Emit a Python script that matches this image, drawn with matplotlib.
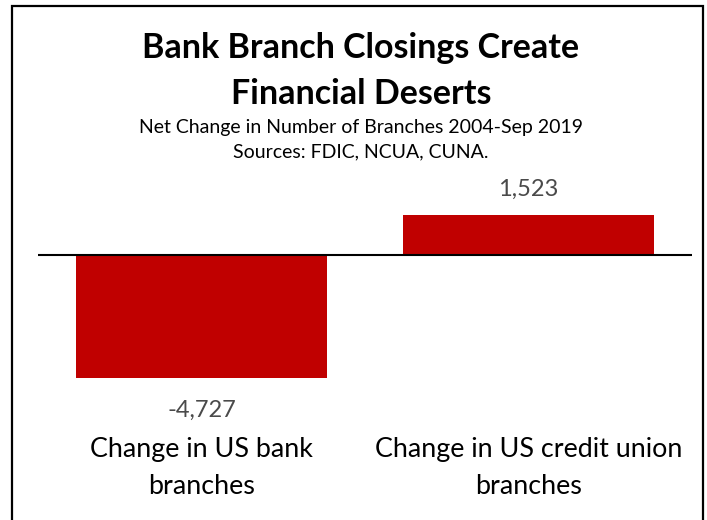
import matplotlib.pyplot as plt
from matplotlib.patches import Rectangle

categories = ["Change in US bank\nbranches", "Change in US credit union\nbranches"]
net_change = [-4727, 1523]

title = "Bank Branch Closings Create\nFinancial Deserts"
subtitle = "Net Change in Number of Branches 2004-Sep 2019"
source = "Sources: FDIC, NCUA, CUNA."

W, H = 707, 520
plt.rcParams['font.family'] = ['Lato', 'DejaVu Sans']

fig = plt.figure(figsize=(W / 100, H / 100), dpi=100)

def px(x, y):
    # pixel position -> figure fraction
    return x / W, 1 - y / H

# frame around the whole chart
fig.patches.append(Rectangle(px(12, 530), (703 - 12) / W, (530 - 6) / H,
                             transform=fig.transFigure, fill=False,
                             edgecolor="black", linewidth=1.6))

fig.text(*px(361, 71), title, ha="center", va="center", fontsize=24.5,
         fontweight="bold", linespacing=1.5)
fig.text(*px(361, 128), subtitle, ha="center", va="center", fontsize=14)
fig.text(*px(361, 152), source, ha="center", va="center", fontsize=14)

top, bottom = 180, 400
ax = fig.add_axes([38 / W, 1 - bottom / H, (692 - 38) / W, (bottom - top) / H])
x = range(len(categories))
ax.bar(x, net_change, width=0.77, color="#C00000")
ax.axhline(0, color="black", linewidth=1.5)
ax.set_xlim(-0.5, 1.5)
ax.set_ylim(-5572, 2882)
ax.axis("off")

for i, v in enumerate(net_change):
    off = 19 if v > 0 else -23
    ax.annotate(f"{v:,}", (i, v), xytext=(0, off), textcoords="offset points",
                ha="center", va="center", fontsize=17, color="#4a4a4a")
    ax.text(i, -0.31, categories[i], transform=ax.get_xaxis_transform(),
            ha="center", va="center", fontsize=19.4, linespacing=1.62)

fig.savefig("out.png", dpi=100)
